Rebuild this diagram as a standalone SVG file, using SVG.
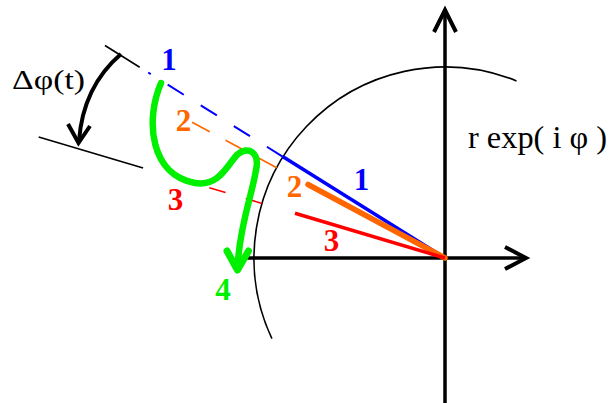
<svg xmlns="http://www.w3.org/2000/svg" width="609" height="403" viewBox="0 0 609 403">
<style>
.ax{stroke:#000;stroke-width:3.5;fill:none}
.ah{stroke:#000;stroke-width:4;fill:none;stroke-linejoin:miter}
.thin{stroke:#000;stroke-width:1.6;fill:none}
text{font-family:"Liberation Serif",serif}
.lb{font-size:31px;font-weight:bold;text-anchor:middle}
</style>
<rect width="609" height="403" fill="#fff"/>
<g id="axes">
<line class="ax" x1="445" y1="10" x2="445" y2="403"/>
<polyline class="ah" points="434,32 445,10 456,32"/>
<line class="ax" x1="246" y1="258" x2="525" y2="258"/>
<polyline class="ah" points="505,247 526,258 505,269"/>
<path class="thin" d="M516.5,80.9 A191,191 0 0 0 271.9,338.7"/>
</g>
<g id="rays">
<line x1="283" y1="156.8" x2="148.2" y2="72.5" stroke="#0000ff" stroke-width="2" stroke-dasharray="19 20"/>
<line x1="283" y1="156.8" x2="445" y2="258" stroke="#0000ff" stroke-width="3.5"/>
<line x1="276.7" y1="167.7" x2="190.4" y2="121.4" stroke="#ff6600" stroke-width="1.6" stroke-dasharray="20 18"/>
<line x1="308" y1="184.5" x2="445" y2="258" stroke="#ff6600" stroke-width="5.5" stroke-linecap="round"/>
<line x1="262" y1="203.4" x2="205.4" y2="186.6" stroke="#ff0000" stroke-width="1.6" stroke-dasharray="17 21"/>
<line x1="295" y1="213.3" x2="445" y2="258" stroke="#ff0000" stroke-width="3.5"/>
</g>
<g id="delta-phi">
<line class="thin" x1="105" y1="45.5" x2="139.7" y2="67.2"/>
<line class="thin" x1="38.7" y1="136.9" x2="143.1" y2="168"/>
<path d="M121,54 C100,72 82,100 79,141" stroke="#000" stroke-width="4" fill="none"/>
<polyline points="68,124 78.5,143 90,126" stroke="#000" stroke-width="4" fill="none"/>
<text x="12" y="89" font-size="28" fill="#000" textLength="73" lengthAdjust="spacingAndGlyphs">Δφ(t)</text>
</g>
<g id="path4">
<path d="M161,83 C145,120 150,175 195,183 C220,187 228,163 238,154 C248,146 260,152 256,170 C252,195 240,225 238,262" stroke="#00f000" stroke-width="6.5" fill="none" stroke-linecap="round"/>
<polyline points="227,251 237.5,270 248.5,251" stroke="#00f000" stroke-width="7" fill="none" stroke-linecap="round" stroke-linejoin="round"/>
</g>
<g id="labels">
<text class="lb" x="169" y="70" fill="#0000ff">1</text>
<text class="lb" x="183.5" y="131" fill="#ff6600">2</text>
<text class="lb" x="175.5" y="210" fill="#ff0000">3</text>
<text class="lb" x="223" y="300" fill="#00f000">4</text>
<text class="lb" x="294.5" y="197" fill="#ff6600">2</text>
<text class="lb" x="361.5" y="190" fill="#0000ff">1</text>
<text class="lb" x="331.5" y="251" fill="#ff0000">3</text>
</g>
<text x="468" y="148" font-size="31" fill="#000" textLength="139" lengthAdjust="spacingAndGlyphs">r exp( i φ )</text>
</svg>
